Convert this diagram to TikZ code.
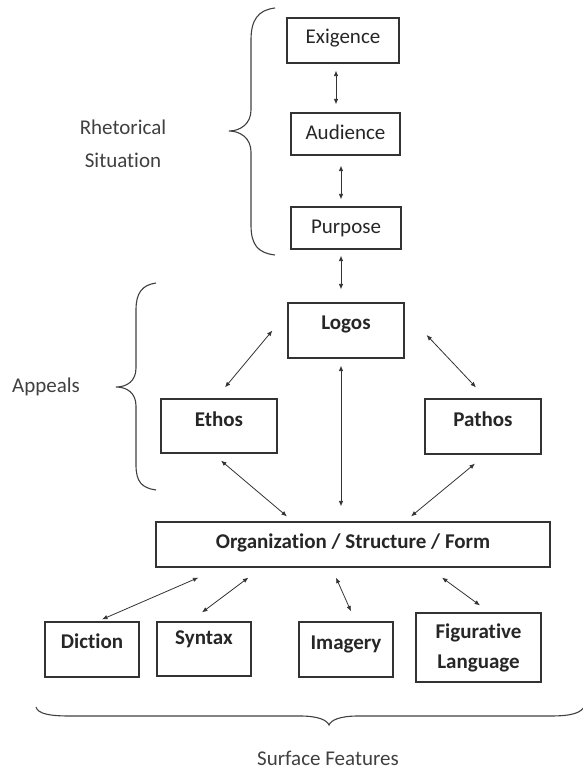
\documentclass[tikz,border=0pt]{standalone}
\usepackage{fontspec}
\setmainfont{Carlito}[Ligatures=NoCommon]
\usetikzlibrary{arrows.meta}

\begin{document}
\begin{tikzpicture}[x=1pt, y=-1pt,
		box/.style={draw=black!80, line width=1.2pt, text=black!85, inner sep=0pt,
			font=\fontsize{21}{30}\selectfont, align=center},
		boldbox/.style={box, font=\fontsize{21}{30}\selectfont\bfseries},
		lift/.style={text height=14pt, text depth=#1},
		link/.style={{Latex[length=5.5pt,width=4.5pt]}-{Latex[length=5.5pt,width=4.5pt]}, line width=0.8pt, black!80},
		brace/.style={line width=1.1pt, black!75},
		sidetext/.style={text=black!75, font=\fontsize{21}{33}\selectfont, align=center}]
		\useasboundingbox (0,0) rectangle (583,773);
		
		% Rhetorical situation boxes
		\node[box, lift=7.5pt, minimum width=112pt, minimum height=45pt] (exig) at (343,40.5) {Exigence};
		\node[box, lift=2.5pt, minimum width=109pt, minimum height=42pt] (aud) at (345.5,134) {Audience};
		\node[box, lift=2.5pt, minimum width=110pt, minimum height=42pt] (purp) at (346,228) {Purpose};
		
		% Appeals boxes
		\node[boldbox, lift=15.5pt, minimum width=116pt, minimum height=55pt] (logos) at (346,330.5) {Logos};
		\node[boldbox, lift=12.5pt, minimum width=116pt, minimum height=54pt] (ethos) at (219,426) {Ethos};
		\node[boldbox, lift=13.5pt, minimum width=116pt, minimum height=55pt] (pathos) at (483,426.5) {Pathos};
		
		% Organization box
		\node[boldbox, lift=5.5pt, minimum width=394pt, minimum height=45pt] (org) at (353,544.5) {Organization / Structure / Form};
		
		% Surface feature boxes
		\node[boldbox, lift=15.5pt, minimum width=94pt, minimum height=55pt] (dict) at (92,649.5) {Diction};
		\node[boldbox, lift=22.5pt, minimum width=94pt, minimum height=54pt] (synt) at (204,649) {Syntax};
		\node[boldbox, lift=13.5pt, minimum width=94pt, minimum height=55pt] (imag) at (346,649.5) {Imagery};
		\node[boldbox, minimum width=125pt, minimum height=69pt] (figl) at (478.5,647.5) {Figurative\\Language};
		
		% Arrows between the boxes
		\draw[link] ([xshift=-7pt,yshift=-7pt]exig.south) -- ([xshift=-9.5pt,yshift=8pt]aud.north);
		\draw[link] ([xshift=-4.5pt,yshift=-10pt]aud.south) -- ([xshift=-5pt,yshift=7pt]purp.north);
		\draw[link] ([xshift=-5pt,yshift=-6pt]purp.south) -- ([xshift=-5pt,yshift=13pt]logos.north);
		\draw[link] ([xshift=-15pt]logos.west) -- ([xshift=6pt,yshift=11pt]ethos.north);
		\draw[link] ([xshift=22pt,yshift=-4.5pt]logos.east) -- ([xshift=-7pt,yshift=11pt]pathos.north);
		\draw[link] ([xshift=-5pt,yshift=-7pt]logos.south) -- ([xshift=-12pt,yshift=15pt]org.north);
		\draw[link] ([xshift=2pt,yshift=-7pt]ethos.south) -- ([xshift=-66pt,yshift=5pt]org.north);
		\draw[link] ([xshift=-8pt,yshift=-9pt]pathos.south) -- ([xshift=58pt,yshift=5pt]org.north);
		\draw[link] ([xshift=43pt,yshift=-10pt]org.south west) -- ([xshift=10pt,yshift=2pt]dict.north);
		\draw[link] ([xshift=93pt,yshift=-10pt]org.south west) -- ([xshift=-2pt,yshift=9pt]synt.north);
		\draw[link] ([xshift=-17pt,yshift=-10pt]org.south) -- ([xshift=5pt,yshift=10pt]imag.north);
		\draw[link] ([xshift=89pt,yshift=-10pt]org.south) -- ([xshift=1.5pt,yshift=7pt]figl.north);
		
		% Braces
		\draw[brace] (275,8) .. controls (258,10) and (251,20) .. (251,40) -- (251,110)
			.. controls (251,124) and (240,131) .. (229,131)
			.. controls (240,131) and (251,138) .. (251,152) -- (251,225)
			.. controls (251,245) and (258,253) .. (275,255);
		\draw[brace] (156,283) .. controls (142,285) and (136,293) .. (136,310) -- (136,368)
			.. controls (136,381) and (127,387) .. (116,387)
			.. controls (127,387) and (136,393) .. (136,406) -- (136,465)
			.. controls (136,482) and (142,488) .. (156,490);
		\draw[brace] (36,707) .. controls (38,714) and (50,716) .. (70,716) -- (300,716)
			.. controls (318,716) and (327,720) .. (329,725)
			.. controls (331,720) and (340,716) .. (358,716) -- (550,716)
			.. controls (572,716) and (582,713) .. (585,705);
		
		% Group labels
		\node[sidetext] (rhet) at (123,143.5) {Rhetorical\\Situation};
		\node[sidetext] (appeals) at (46,387) {Appeals};
		\node[sidetext] (surface) at (328,758) {Surface Features};
	\end{tikzpicture}
\end{document}
